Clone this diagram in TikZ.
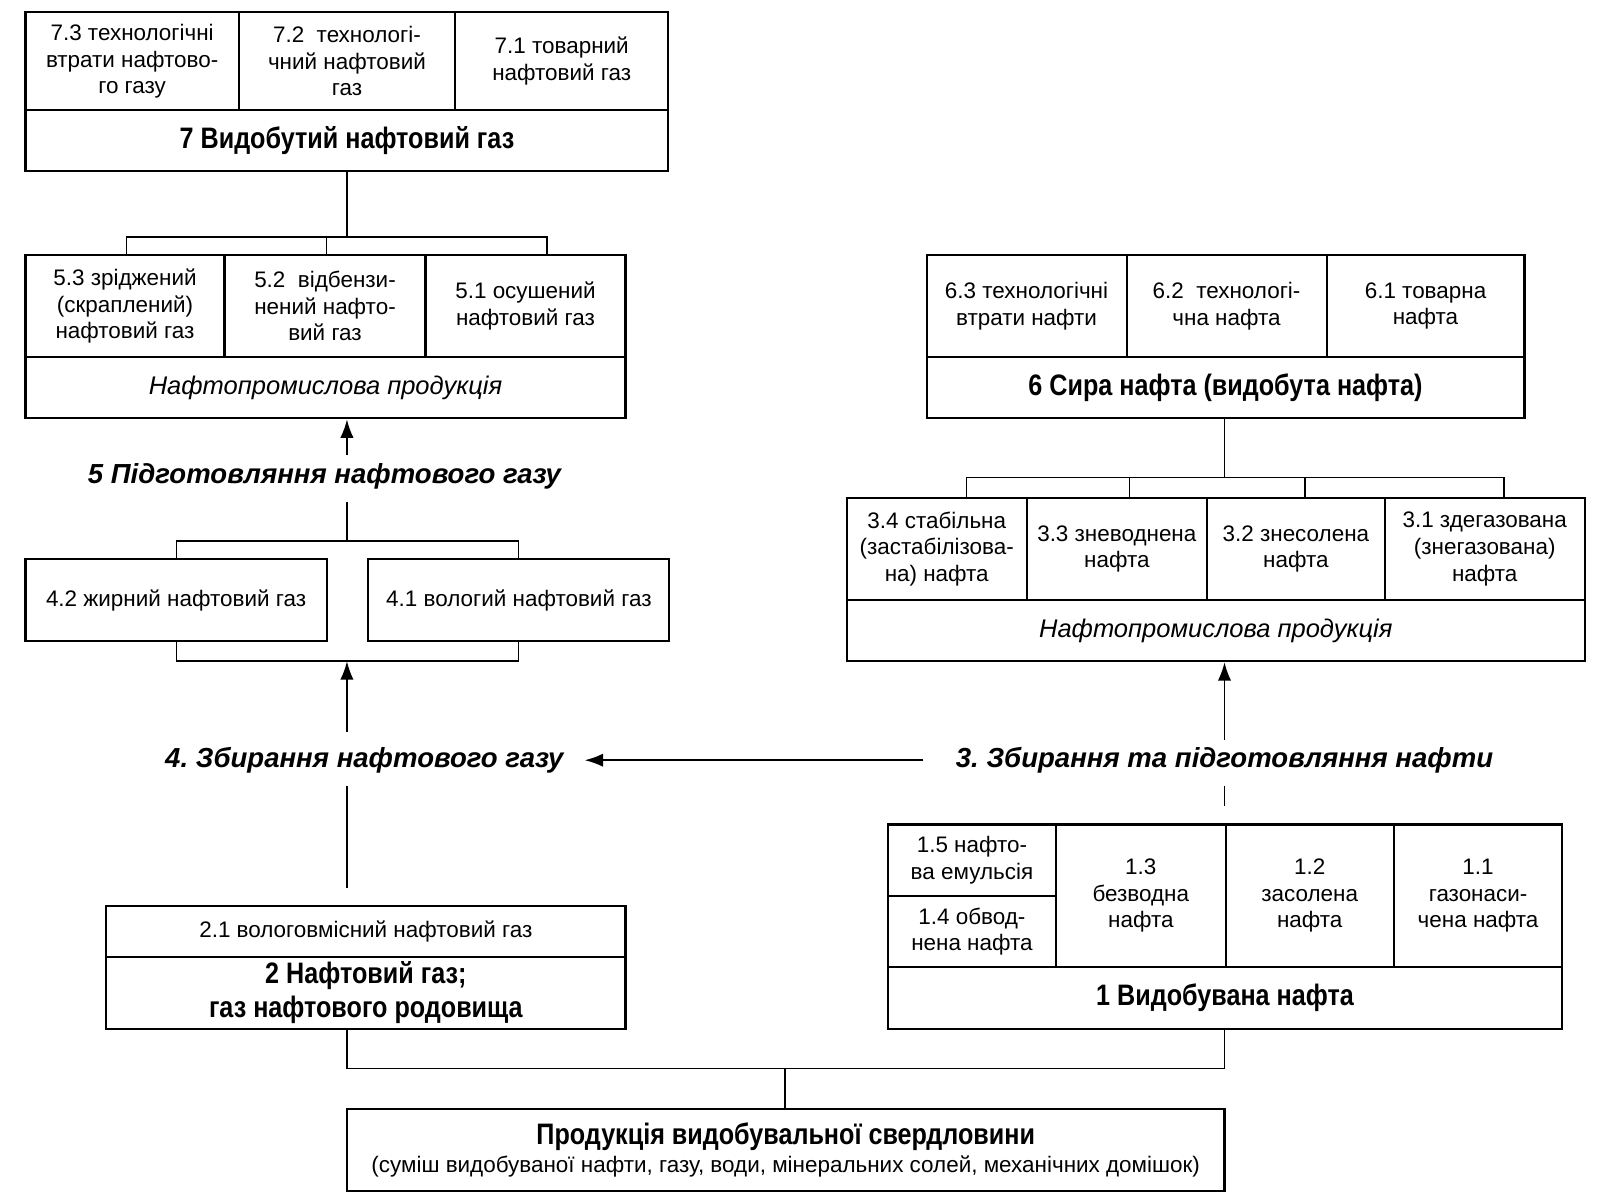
\documentclass[tikz,border=0pt]{standalone}
\usepackage{fontspec}
\setmainfont{Liberation Sans}
\newfontfamily\narrowfont{Liberation Sans}[FakeStretch=0.85]
\usetikzlibrary{arrows.meta}
\frenchspacing
\tikzset{
  cellst/.style={draw, line width=1pt, align=center, inner sep=0pt, font=\fontsize{11}{13}\selectfont},
  titlest/.style={font=\narrowfont\bfseries\fontsize{14.5}{16.5}\selectfont},
  prodst/.style={font=\itshape\fontsize{12.5}{15}\selectfont},
  lblst/.style={inner sep=0pt, font=\bfseries\itshape\fontsize{13.5}{16}\selectfont},
  conn/.style={line width=0.8pt},
  arr/.style={line width=0.8pt, -{Latex[length=9pt,width=6.5pt]}}
}
\newcommand\cellbox[7][]{%
  \pgfmathsetmacro\cbw{(#5-#3)*0.5}%
  \pgfmathsetmacro\cbh{(#6-#4)*0.5}%
  \node[cellst,minimum width=\cbw pt,minimum height=\cbh pt,#1] (#2) at ({(#3+#5)/2},{(#4+#6)/2}) {#7};}
\begin{document}
\begin{tikzpicture}[x=0.5pt,y=-0.5pt]
\useasboundingbox[fill=white] (0,0) rectangle (1568,1176);
% ---- Box 7
\cellbox{c73}{25}{12}{234}{108}{7.3 технологічні\\втрати нафтово-\\го газу}
\cellbox{c72}{234}{12}{446}{108}{7.2~~технологі-\\чний нафтовий\\газ}
\cellbox{c71}{446}{12}{655}{108}{7.1 товарний\\нафтовий газ}
\cellbox[titlest]{b7}{25}{108}{655}{168}{7 Видобутий нафтовий газ}
% ---- Box 5
\cellbox{c53}{25}{250}{220}{350}{5.3 зріджений\\(скраплений)\\нафтовий газ}
\cellbox{c52}{220}{250}{417}{350}{5.2~~відбензи-\\нений нафто-\\вий газ}
\cellbox{c51}{417}{250}{613}{350}{5.1 осушений\\нафтовий газ}
\cellbox[prodst]{b5}{25}{350}{613}{410}{Нафтопромислова продукція}
% ---- Box 4
\cellbox{c42}{25}{548}{320}{628}{4.2 жирний нафтовий газ}
\cellbox{c41}{361}{548}{656}{628}{4.1 вологий нафтовий газ}
% ---- Box 2
\cellbox{c21}{104}{888}{613}{938}{2.1 вологовмісний нафтовий газ}
\cellbox[titlest]{b2}{104}{938}{613}{1008}{2 Нафтовий газ;\\газ нафтового родовища}
% ---- Box 6
\cellbox{c63}{908}{250}{1104}{350}{6.3 технологічні\\втрати нафти}
\cellbox{c62}{1104}{250}{1300}{350}{6.2~~технологі-\\чна нафта}
\cellbox{c61}{1300}{250}{1494}{350}{6.1 товарна\\нафта}
\cellbox[titlest]{b6}{908}{350}{1494}{410}{6 Сира нафта (видобута нафта)}
% ---- Box 3
\cellbox{c34}{830}{488}{1006}{588}{3.4 стабільна\\(застабілізова-\\на) нафта}
\cellbox{c33}{1006}{488}{1183}{588}{3.3 зневоднена\\нафта}
\cellbox{c32}{1183}{488}{1357}{588}{3.2 знесолена\\нафта}
\cellbox{c31}{1357}{488}{1553}{588}{3.1 здегазована\\(знегазована)\\нафта}
\cellbox[prodst]{b3}{830}{588}{1553}{648}{Нафтопромислова продукція}
% ---- Box 1
\cellbox{c15}{870}{808}{1035}{878}{1.5 нафто-\\ва емульсія}
\cellbox{c14}{870}{878}{1035}{948}{1.4 обвод-\\нена нафта}
\cellbox{c13}{1035}{808}{1201}{948}{1.3\\безводна\\нафта}
\cellbox{c12}{1201}{808}{1366}{948}{1.2\\засолена\\нафта}
\cellbox{c11}{1366}{808}{1531}{948}{1.1\\газонаси-\\чена нафта}
\cellbox[titlest]{b1}{870}{948}{1531}{1008}{1 Видобувана нафта}
% ---- Bottom box
\cellbox{bp}{340}{1087}{1200}{1167}{{\narrowfont\bfseries\fontsize{14.5}{16.5}\selectfont Продукція видобувальної свердловини}\\[1pt](суміш видобуваної нафти, газу, води, мінеральних солей, механічних домішок)}
% ---- Labels
\node[lblst] (l5) at (318,467) {5 Підготовляння нафтового газу};
\node[lblst] (l4) at (357,745) {4. Збирання нафтового газу};
\node[lblst] (l3) at (1200,745) {3. Збирання та підготовляння нафти};
% ---- Connectors left
\coordinate (j7) at (340,232);
\coordinate (k53) at (124,250);
\coordinate (k52) at (320,250);
\coordinate (k51) at (536,250);
\draw[conn] (j7|-b7.south) -- (j7);
\draw[conn] (k53) -- (k53|-j7) -- (k51|-j7) -- (k51);
\draw[conn] (k52) -- (k52|-j7);
\coordinate (a5) at (340,446);
\draw[arr] (a5) -- (a5|-b5.south);
\coordinate (l5lo) at (340,492);
\coordinate (j4) at (340,530);
\draw[conn] (l5lo) -- (j4);
\coordinate (k42) at (173,548);
\coordinate (k41) at (508,548);
\draw[conn] (k42) -- (k42|-j4) -- (k41|-j4) -- (k41);
\coordinate (m4) at (340,648);
\draw[conn] (k42|-c42.south) -- (k42|-m4) -- (k41|-m4) -- (k41|-c41.south);
\coordinate (a4) at (340,717);
\draw[arr] (a4) -- (m4);
\coordinate (l4lo) at (340,770);
\coordinate (g2) at (340,870);
\draw[conn] (g2) -- (l4lo);
\coordinate (h3) at (905,745);
\coordinate (h4) at (573,745);
\draw[arr] (h3) -- (h4);
% ---- Connectors right
\coordinate (j6) at (1200,468);
\draw[conn] (j6|-b6.south) -- (j6);
\coordinate (k34) at (947,488);
\coordinate (k33) at (1107,488);
\coordinate (k32) at (1279,488);
\coordinate (k31) at (1474,488);
\draw[conn] (k34) -- (k34|-j6) -- (k31|-j6) -- (k31);
\draw[conn] (k33) -- (k33|-j6);
\draw[conn] (k32) -- (k32|-j6);
\coordinate (a3) at (1200,725);
\draw[arr] (a3) -- (a3|-b3.south);
\coordinate (l3lo) at (1200,770);
\coordinate (l3b) at (1200,790);
\draw[conn] (l3lo) -- (l3b);
% ---- Bottom bracket
\coordinate (jb) at (769,1047);
\draw[conn] (g2|-b2.south) -- (g2|-jb) -- (l3b|-jb) -- (l3b|-b1.south);
\draw[conn] (jb) -- (jb|-bp.north);
\end{tikzpicture}
\end{document}
